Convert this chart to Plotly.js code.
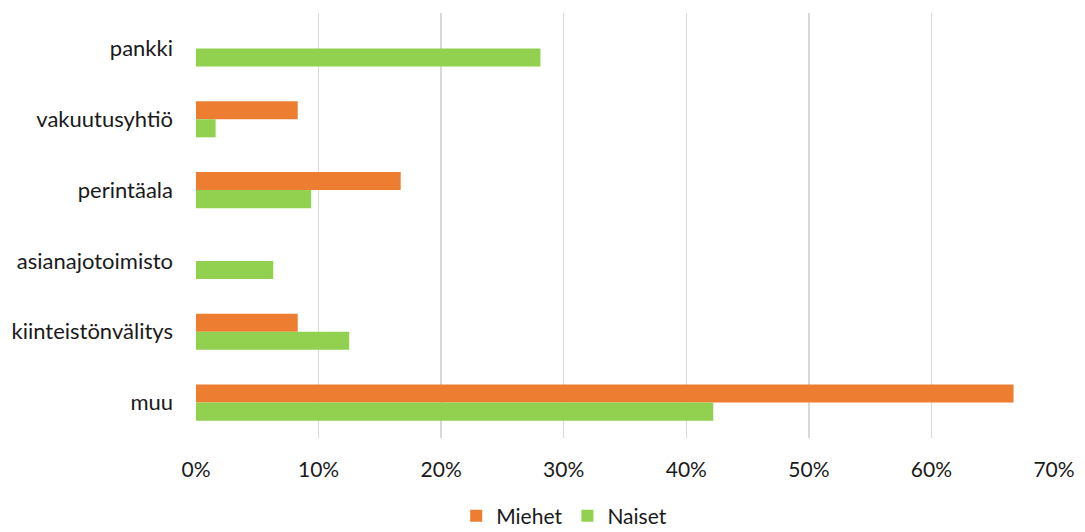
<!DOCTYPE html>
<html>
<head>
<meta charset="utf-8">
<script src="https://cdn.plot.ly/plotly-3.0.1.min.js"></script>
<style>html,body{margin:0;padding:0;background:#fff;}#chart{width:1085px;height:532px;}</style>
</head>
<body>
<div id="chart"></div>
<script>
const categories = ["pankki", "vakuutusyhtiö", "perintäala", "asianajotoimisto", "kiinteistönvälitys", "muu"];
const miehet = [0, 8.3, 16.7, 0, 8.3, 66.7];
const naiset = [28.1, 1.6, 9.4, 6.3, 12.5, 42.2];
const xTicks = [0, 10, 20, 30, 40, 50, 60, 70];
const xTickLabels = ["0%", "10%", "20%", "30%", "40%", "50%", "60%", "70%"];

const traces = [
  {type: "bar", orientation: "h", name: "Miehet", y: categories, x: miehet,
   marker: {color: "#ED7D31"}, hoverinfo: "skip"},
  {type: "bar", orientation: "h", name: "Naiset", y: categories, x: naiset,
   marker: {color: "#92D050"}, hoverinfo: "skip"}
];

const layout = {
  width: 1085, height: 532,
  margin: {l: 196, r: 31, t: 13, b: 94, pad: 0, autoexpand: false},
  paper_bgcolor: "#fff", plot_bgcolor: "#fff",
  font: {family: "Lato, 'Open Sans', sans-serif", size: 21, color: "#1a1a1a"},
  barmode: "group",
  bargap: 0.49,
  bargroupgap: 0,
  xaxis: {range: [0, 70], tickvals: xTicks, ticktext: xTickLabels,
          showgrid: true, gridcolor: "#d9d9d9", gridwidth: 1.5,
          zeroline: false, showline: false, ticks: "", ticklabelstandoff: 17,
          fixedrange: true, automargin: false},
  yaxis: {type: "category", autorange: "reversed", showgrid: false, zeroline: false,
          showline: false, ticks: "", ticklabelstandoff: 22, fixedrange: true, automargin: false,
          tickfont: {size: 22}},
  showlegend: true,
  legend: {orientation: "h", x: 0.52, xanchor: "center", xref: "container",
           y: 0.03, yanchor: "middle", yref: "container",
           font: {size: 21}, traceorder: "normal", itemwidth: 30, tracegroupgap: 0}
};

Plotly.newPlot("chart", traces, layout, {staticPlot: true, displayModeBar: false});
</script>
</body>
</html>
